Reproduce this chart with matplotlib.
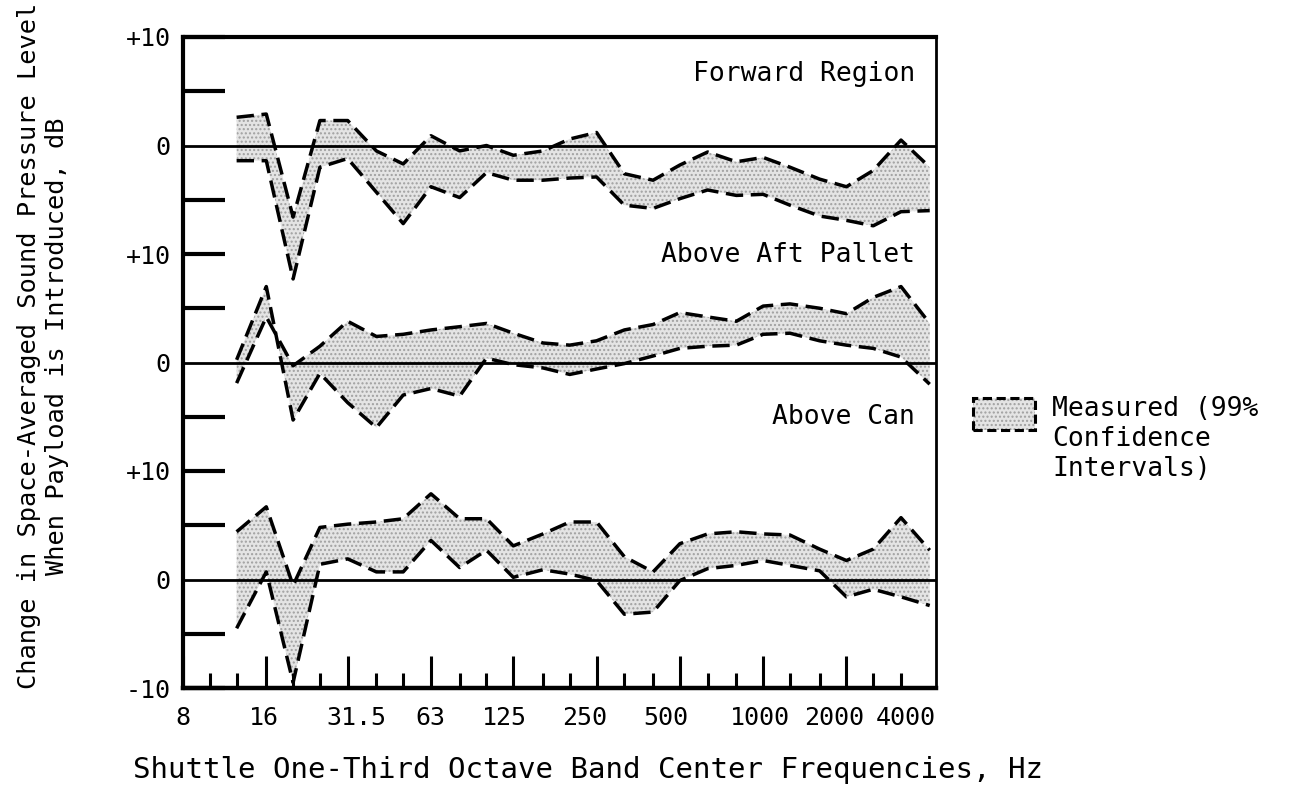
import numpy as np
import matplotlib
matplotlib.use("Agg")
import matplotlib.pyplot as plt
import matplotlib.transforms as mtrans
from matplotlib.patches import Patch, Rectangle
from matplotlib.ticker import NullFormatter
from matplotlib.legend_handler import HandlerTuple, HandlerPatch

# ---------------- data ----------------
freqs = [12.5, 16, 20, 25, 31.5, 40, 50, 63, 80, 100, 125, 160, 200, 250,
         315, 400, 500, 630, 800, 1000, 1250, 1600, 2000, 2500, 3150, 4000]

# Forward Region (dB), 99% confidence bounds
fwd_upper = [2.6, 2.9, -6.6, 2.3, 2.3, -0.5, -1.7, 0.9, -0.5, 0.0, -0.9, -0.5, 0.6,
             1.2, -2.6, -3.2, -1.8, -0.6, -1.5, -1.1, -2.0, -3.1, -3.8, -2.3, 0.5, -2.0]
fwd_lower = [-1.4, -1.4, -12.3, -2.0, -1.2, -4.3, -7.2, -3.8, -4.8, -2.5, -3.2, -3.2, -3.0,
             -2.9, -5.5, -5.8, -4.9, -4.1, -4.6, -4.5, -5.5, -6.5, -6.9, -7.4, -6.1, -6.0]

# Above Aft Pallet (dB)
aft_a = [0.25, 7.0, -5.3, -1.0, -3.7, -6.0, -3.0, -2.4, -3.1, 0.4, -0.2, -0.5, -1.1,
         -0.6, -0.1, 0.6, 1.3, 1.5, 1.6, 2.6, 2.7, 2.0, 1.6, 1.3, 0.5, -2.0]
aft_b = [-1.9, 4.2, -0.3, 1.5, 3.8, 2.4, 2.6, 3.0, 3.3, 3.6, 2.7, 1.8, 1.6,
         2.0, 3.0, 3.5, 4.6, 4.2, 3.8, 5.2, 5.4, 5.0, 4.5, 6.0, 7.0, 3.6]

# Above Can (dB)
can_upper = [4.4, 6.7, -0.55, 4.8, 5.1, 5.3, 5.6, 7.9, 5.6, 5.6, 3.1, 4.2, 5.3,
             5.3, 2.1, 0.7, 3.3, 4.2, 4.4, 4.2, 4.1, 2.8, 1.75, 2.8, 5.7, 2.7]
can_lower = [-4.5, 0.7, -9.5, 1.4, 1.9, 0.7, 0.7, 3.6, 1.1, 2.7, 0.2, 0.9, 0.5,
             -0.1, -3.2, -3.0, -0.1, 1.0, 1.3, 1.75, 1.3, 0.8, -1.6, -0.9, -1.6, -2.4]

panel_names = ["Forward Region", "Above Aft Pallet", "Above Can"]

major_freqs = [8, 16, 31.5, 63, 125, 250, 500, 1000, 2000, 4000]
major_labels = ["8", "16", "31.5", "63", "125", "250", "500", "1000", "2000", "4000"]
minor_freqs = [10, 12.5, 20, 25, 40, 50, 80, 100, 160, 200, 315, 400, 630, 800,
               1250, 1600, 2500, 3150]

ytick_major = [-30, -25, -15, -10, -5, 5, 10, 15, 25, 30]
ytick_major_labels = ["-10", "", "", "+10", "", "", "+10", "", "", "+10"]
ytick_zero = [-20, 0, 20]
ytick_zero_labels = ["0", "0", "0"]

legend_label = "Measured (99%\nConfidence\nIntervals)"

# ---------------- styling ----------------
FONT = "DejaVu Sans Mono"
plt.rcParams["font.family"] = FONT
plt.rcParams["hatch.linewidth"] = 1.0

fig = plt.figure(figsize=(12.91, 7.90), dpi=100)
ax = fig.add_axes([183 / 1291, 1 - 688 / 790, (936 - 183) / 1291, (688 - 37) / 790])

ax.set_xscale("log")
ax.set_xlim(8, 4215)
ax.set_ylim(-30, 30)

offsets = [20, 0, -20]
series = [(fwd_upper, fwd_lower), (aft_b, aft_a), (can_upper, can_lower)]
label_y = [26.6, 9.9, -5.0]

dash = (0, (5, 2.2))
fill_face = "#e4e4e4"
fill_hatch = "#a0a0a0"

for (s1, s2), off, name, ly in zip(series, offsets, panel_names, label_y):
    y1 = np.array(s1) + off
    y2 = np.array(s2) + off
    ax.fill_between(freqs, y1, y2, facecolor=fill_face, edgecolor=fill_hatch,
                    hatch="....", linewidth=0, zorder=1)
    ax.axhline(off, color="black", lw=2.0, zorder=2)
    ax.plot(freqs, y1, color="black", lw=2.5, linestyle=dash, zorder=3)
    ax.plot(freqs, y2, color="black", lw=2.5, linestyle=dash, zorder=3)
    ax.text(0.972, ly, name, transform=ax.get_yaxis_transform(), ha="right",
            va="center", fontsize=19, family=FONT)

# x ticks
ax.set_xticks(major_freqs)
ax.set_xticklabels(major_labels)
ax.set_xticks(minor_freqs, minor=True)
ax.xaxis.set_minor_formatter(NullFormatter())
ax.tick_params(axis="x", which="major", direction="in", length=23, width=2.2,
               labelsize=18, pad=13, top=False)
ax.tick_params(axis="x", which="minor", direction="in", length=11, width=2.2,
               top=False)

# small typewriter-style placement offsets of the tick labels (pixels)
label_dx = [0, -2, 9, -1, -9, -12, -14, -3, -12, 6]
xt_labels = ax.get_xticklabels()
for lbl, dx in zip(xt_labels, label_dx):
    lbl.set_transform(lbl.get_transform() +
                      mtrans.ScaledTranslation(dx / 100, 0, fig.dpi_scale_trans))
xt_labels[-1].set_horizontalalignment("right")
# the 4000 Hz tick sits against the right border: no separate tick mark
ax.xaxis.get_major_ticks()[-1].tick1line.set_visible(False)

# y ticks
ax.set_yticks(ytick_major)
ax.set_yticklabels(ytick_major_labels)
ax.set_yticks(ytick_zero, minor=True)
ax.set_yticklabels(ytick_zero_labels, minor=True)
ax.tick_params(axis="y", which="major", direction="in", length=30, width=3.0,
               labelsize=18, pad=9, right=False)
ax.tick_params(axis="y", which="minor", direction="in", length=0,
               labelsize=18, pad=9, right=False)

for side, lw in (("left", 3.0), ("top", 3.0), ("bottom", 3.2), ("right", 2.0)):
    ax.spines[side].set_linewidth(lw)

# axis labels
ax.set_xlabel("Shuttle One-Third Octave Band Center Frequencies, Hz", fontsize=21)
ax.xaxis.set_label_coords((588 - 183) / 753, (688 - 770) / 651)
ax.xaxis.label.set_va("center")

fig.text(43 / 1291, 1 - 346 / 790,
         "Change in Space-Averaged Sound Pressure Level\nWhen Payload is Introduced, dB",
         rotation=90, ha="center", va="center", fontsize=18.3, linespacing=1.2,
         multialignment="center")

# legend (key drawn raised, level with the first text lines)
def raised_patch(legend, orig_handle, xdescent, ydescent, width, height, fontsize):
    return Rectangle((-xdescent, -ydescent + 19), width, height)

h_fill = Patch(facecolor=fill_face, edgecolor=fill_hatch, hatch="....", linewidth=0)
h_edge = Patch(facecolor="none", edgecolor="black", linestyle=(0, (3, 1.5)), linewidth=2.2)
fig.legend(handles=[(h_fill, h_edge)], labels=[legend_label],
           handler_map={tuple: HandlerTuple(ndivide=1, pad=0),
                        Patch: HandlerPatch(patch_func=raised_patch)},
           loc="upper left", bbox_to_anchor=(973 / 1291, 1 - 396 / 790),
           frameon=False, prop={"family": FONT, "size": 19},
           handlelength=2.35, handleheight=1.45, handletextpad=0.64, borderpad=0,
           borderaxespad=0)

fig.savefig("out.png", dpi=100)
